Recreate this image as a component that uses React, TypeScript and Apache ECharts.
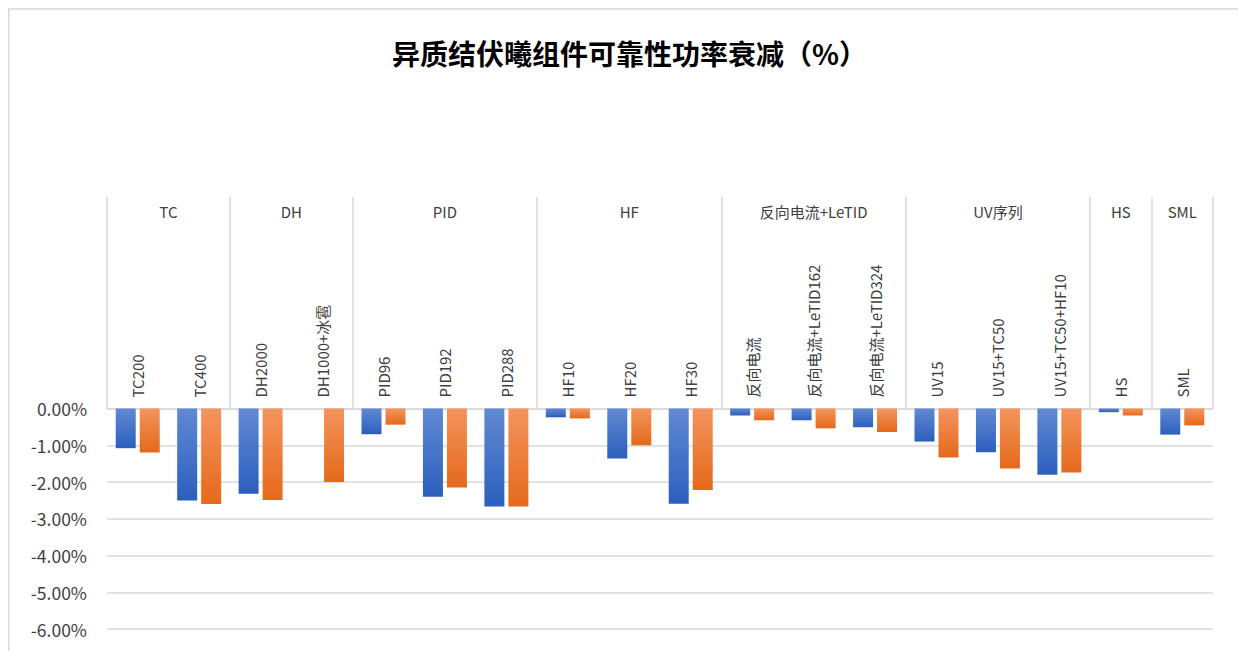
import React, { useEffect, useRef } from "react";
import * as echarts from "echarts";

// Test items, grouped by test type
const groupNames = ["TC", "DH", "PID", "HF", "反向电流+LeTID", "UV序列", "HS", "SML"];
const groupSizes = [2, 2, 3, 3, 3, 3, 1, 1];
const categories = [
  "TC200", "TC400",
  "DH2000", "DH1000+冰雹",
  "PID96", "PID192", "PID288",
  "HF10", "HF20", "HF30",
  "反向电流", "反向电流+LeTID162", "反向电流+LeTID324",
  "UV15", "UV15+TC50", "UV15+TC50+HF10",
  "HS",
  "SML",
];

// Power degradation (%), two samples per test item
const seriesA: (number | null)[] = [
  -1.08, -2.5,
  -2.32, null,
  -0.7, -2.4, -2.67,
  -0.24, -1.36, -2.59,
  -0.19, -0.32, -0.51,
  -0.9, -1.19, -1.8,
  -0.1,
  -0.71,
];
const seriesB: (number | null)[] = [
  -1.2, -2.6,
  -2.49, -2.0,
  -0.44, -2.15, -2.67,
  -0.27, -1.0, -2.22,
  -0.32, -0.54, -0.64,
  -1.33, -1.63, -1.74,
  -0.19,
  -0.46,
];

const yTicks = { min: -6, max: 0, interval: 1 };

const FONT = "'Noto Sans CJK SC', 'Noto Sans', sans-serif";
const GRID_LINE = "#d9d9d9";

export default function App() {
  const ref = useRef<HTMLDivElement>(null);

  useEffect(() => {
    if (!ref.current) return;
    // the wrapper supplies the 8px offset itself so the chart can run to the window edge
    const prevMargin = document.body.style.margin;
    document.body.style.margin = "0";
    const chart = echarts.init(ref.current, undefined, { renderer: "svg" });

    // group boundaries and centres in category units
    const bounds: number[] = [0];
    groupSizes.forEach((s) => bounds.push(bounds[bounds.length - 1] + s));
    const centres = groupNames.map((_, i) => (bounds[i] + bounds[i + 1]) / 2);
    const total = bounds[bounds.length - 1];

    const grad = (top: string, bottom: string) =>
      new echarts.graphic.LinearGradient(0, 0, 0, 1, [
        { offset: 0, color: top },
        { offset: 1, color: bottom },
      ]);

    const option: echarts.EChartsOption = {
      animation: false,
      textStyle: { fontFamily: FONT },
      title: {
        text: "异质结伏曦组件可靠性功率衰减（%）",
        left: 379,
        top: 26,
        textStyle: { fontSize: 28, fontWeight: "bold", color: "#000", fontFamily: FONT },
      },
      // chart-area frame (left and top edges)
      graphic: [
        {
          type: "line",
          silent: true,
          shape: { x1: 0.75, y1: 1, x2: 0.75, y2: 700 },
          style: { stroke: GRID_LINE, lineWidth: 1.5 },
        },
        {
          type: "line",
          silent: true,
          shape: { x1: 0, y1: 1, x2: 1400, y2: 1 },
          style: { stroke: GRID_LINE, lineWidth: 1.5 },
        },
      ],
      grid: [
        { left: 99, right: 25, top: 400.5, height: 220.5 },
        { left: 99, right: 25, top: 189, height: 211.5 },
      ],
      xAxis: [
        {
          type: "category",
          gridIndex: 0,
          position: "top",
          data: categories,
          axisLine: { show: true, lineStyle: { color: GRID_LINE, width: 1.5 } },
          axisTick: { show: false },
          axisLabel: {
            interval: 0,
            rotate: 90,
            margin: 11,
            fontSize: 15,
            color: "#404040",
            fontFamily: FONT,
          },
        },
        {
          type: "value",
          gridIndex: 1,
          position: "top",
          min: 0,
          max: total,
          interval: 0.5,
          axisLine: { show: false },
          axisTick: { show: false },
          splitLine: { show: false },
          axisLabel: {
            inside: true,
            margin: 7,
            fontSize: 15,
            color: "#404040",
            fontFamily: FONT,
            formatter: (v: number) => {
              const i = centres.findIndex((c) => Math.abs(c - v) < 1e-6);
              return i >= 0 ? groupNames[i] : "";
            },
          },
        },
      ],
      yAxis: [
        {
          type: "value",
          gridIndex: 0,
          min: yTicks.min,
          max: yTicks.max,
          interval: yTicks.interval,
          axisLine: { show: false },
          axisTick: { show: false },
          splitLine: { show: true, lineStyle: { color: GRID_LINE, width: 1.5 } },
          axisLabel: {
            margin: 20,
            fontSize: 17.5,
            color: "#404040",
            fontFamily: FONT,
            formatter: (v: number) => (v === 0 ? 0 : v).toFixed(2) + "%",
          },
        },
        { type: "value", gridIndex: 1, min: 0, max: 1, show: false },
      ],
      series: [
        {
          name: "A",
          type: "bar",
          xAxisIndex: 0,
          yAxisIndex: 0,
          data: seriesA,
          barWidth: 20,
          barGap: "20%",
          itemStyle: { color: grad("#6189d3", "#2b5fbd") },
        },
        {
          name: "B",
          type: "bar",
          xAxisIndex: 0,
          yAxisIndex: 0,
          data: seriesB,
          barWidth: 20,
          barGap: "20%",
          itemStyle: { color: grad("#f4945e", "#e5691a") },
        },
        {
          name: "groups",
          type: "line",
          xAxisIndex: 1,
          yAxisIndex: 1,
          data: [],
          silent: true,
          markLine: {
            silent: true,
            symbol: "none",
            label: { show: false },
            lineStyle: { color: GRID_LINE, type: "solid", width: 1.5 },
            data: bounds.map((b) => ({ xAxis: b })),
          },
        },
      ],
    };

    chart.setOption(option);
    return () => {
      chart.dispose();
      document.body.style.margin = prevMargin;
    };
  }, []);

  return (
    <div style={{ padding: "8px 0 0 8px", width: 1230, height: 643 }}>
      <div ref={ref} style={{ width: 1230, height: 643 }} />
    </div>
  );
}
